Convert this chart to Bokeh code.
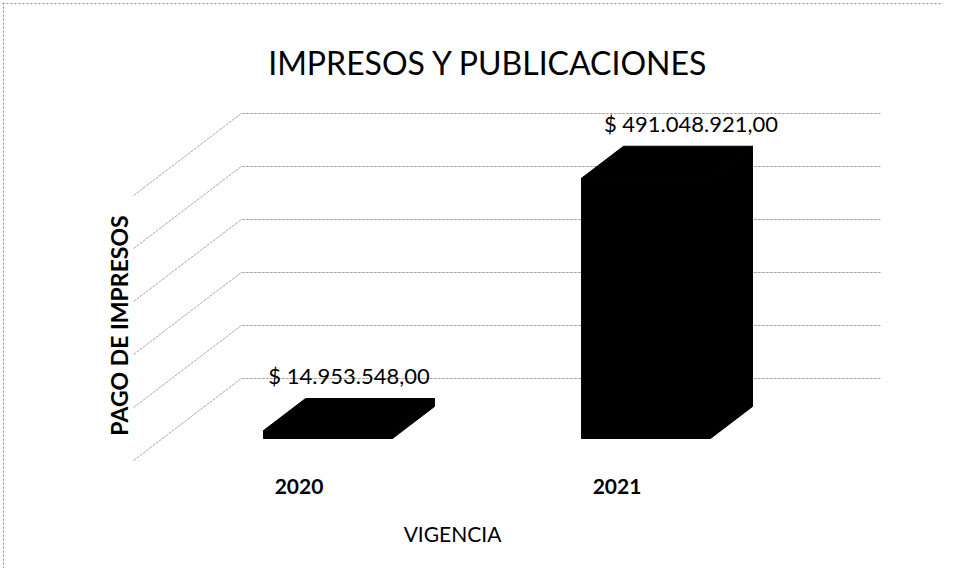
from bokeh.plotting import figure
from bokeh.models import Range1d
from bokeh.embed import file_html
from bokeh.resources import INLINE
from bokeh.core.properties import value
import math

# ---------------- data ----------------
categories = ["2020", "2021"]
amounts = [14953548.00, 491048921.00]
value_labels = ["$ 14.953.548,00", "$ 491.048.921,00"]
grid_values = [0, 100e6, 200e6, 300e6, 400e6, 500e6]
title_text = "IMPRESOS Y PUBLICACIONES"
y_title = "PAGO DE IMPRESOS"
x_title = "VIGENCIA"

# ---------------- layout constants ----------------
W, H = 943, 568
SX = 318.0          # px per category step
SY = 0.53e-6        # px per peso
X0_PX = 327.5       # canvas x of first category (front face centre)
Y0_PX = H - 438.0   # canvas px (from bottom) of value 0 on the front plane
XS0 = -X0_PX / SX
YS0 = -Y0_PX / SY

DX = 42.0 / SX      # depth offset (x) per unit depth
DY = 32.0 / SY      # depth offset (y) per unit depth
BAR_W = 129.0 / SX
Z_FLOOR = -0.69
Z_WALL = 1.875
LABEL_SHIFT_PX = [21, 45]   # horizontal placement of value labels (style)


def X(px):  # canvas x -> data x
    return XS0 + px / SX


def Y(py):  # canvas y (from top) -> data y
    return YS0 + (H - py) / SY


WALL_LEFT = X(162)
RIGHT_END = X(880) - Z_WALL * DX

p = figure(width=W, height=H, output_backend="svg", toolbar_location=None,
           x_range=Range1d(XS0, XS0 + W / SX), y_range=Range1d(YS0, YS0 + H / SY),
           min_border=0)
p.axis.visible = False
p.grid.visible = False
p.outline_line_color = None
p.background_fill_color = "white"
p.border_fill_color = "white"

# chart border (top / left)
p.segment(x0=[X(2), X(3)], y0=[Y(3), Y(2)], x1=[X(943), X(3)], y1=[Y(3), Y(568)],
          line_color="#8f8f8f", line_width=1, line_dash="2 2")

# gridlines: side wall diagonal + back wall horizontal
gxs, gys = [], []
for g in grid_values:
    gxs.append([WALL_LEFT + Z_FLOOR * DX, WALL_LEFT + Z_WALL * DX, RIGHT_END + Z_WALL * DX])
    gys.append([g + Z_FLOOR * DY, g + Z_WALL * DY, g + Z_WALL * DY])
p.multi_line(gxs, gys, line_color="#a6a6a6", line_width=1, line_dash="3 1")

# 3D bars
fxs, fys = [], []
for i, v in enumerate(amounts):
    xl, xr = i - BAR_W / 2, i + BAR_W / 2
    fxs += [[xl, xr, xr, xl],
            [xl, xr, xr + DX, xl + DX],
            [xr, xr + DX, xr + DX, xr]]
    fys += [[0, 0, v, v],
            [v, v, v + DY, v + DY],
            [0, DY, v + DY, v]]
p.patches(fxs, fys, fill_color="#000000", line_color="#000000", line_width=1)

# value labels
p.text(x=[i + LABEL_SHIFT_PX[i] / SX for i in range(len(amounts))],
       y=[v + DY + 23 / SY for v in amounts],
       text=value_labels, text_font=value("Lato"), text_font_size="22px",
       text_align="center", text_baseline="middle", text_color="#000000")

# category labels
p.text(x=[i + Z_FLOOR * DX for i in range(len(categories))],
       y=[Z_FLOOR * DY - 26 / SY] * len(categories),
       text=categories, text_font=value("Lato"), text_font_size="21px",
       text_font_style="bold", text_align="center", text_baseline="middle",
       text_color="#000000")

# titles
p.text(x=[X(488)], y=[Y(62)], text=[title_text], text_font=value("Lato"),
       text_font_size="32px", text_align="center", text_baseline="middle",
       text_color="#000000")
p.text(x=[X(118)], y=[Y(325)], text=[y_title], text_font=value("Lato"),
       text_font_size="23px", text_font_style="bold", angle=math.pi / 2,
       text_align="center", text_baseline="middle", text_color="#000000")
p.text(x=[X(452)], y=[Y(533)], text=[x_title], text_font=value("Lato"),
       text_font_size="21px", text_align="center", text_baseline="middle",
       text_color="#000000")

open("out.html", "w").write(file_html(p, INLINE))
